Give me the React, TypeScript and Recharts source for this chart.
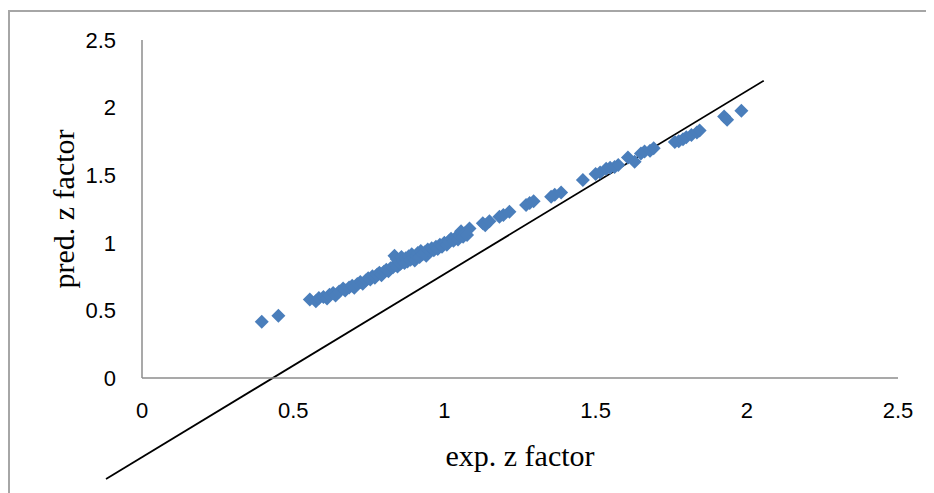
import React from 'react';
import {
  ScatterChart,
  Scatter,
  XAxis,
  YAxis,
  ReferenceLine,
  Label,
} from 'recharts';

const expZ = [
  0.396, 0.451,
  0.555, 0.575, 0.585, 0.6, 0.612, 0.62, 0.632, 0.64, 0.652, 0.665, 0.672, 0.685,
  0.695, 0.702, 0.712, 0.722, 0.73, 0.74, 0.748, 0.755, 0.762, 0.77, 0.778, 0.785,
  0.792, 0.8, 0.808, 0.815, 0.822, 0.83, 0.835, 0.838, 0.842, 0.845, 0.85, 0.855,
  0.858, 0.862, 0.868, 0.872, 0.878, 0.882, 0.888, 0.892, 0.898, 0.902, 0.908,
  0.912, 0.918, 0.922, 0.928, 0.935, 0.94, 0.945, 0.952, 0.958, 0.965, 0.972,
  0.978, 0.985, 0.992, 1.0, 1.008, 1.015, 1.022, 1.03, 1.038, 1.045, 1.05, 1.055,
  1.062, 1.068, 1.075, 1.083,
  1.127, 1.135, 1.149, 1.182, 1.195, 1.215, 1.27, 1.282, 1.295, 1.353, 1.365,
  1.386, 1.458, 1.5, 1.515, 1.535, 1.548, 1.563, 1.575, 1.607, 1.629, 1.65, 1.662,
  1.68, 1.692, 1.762, 1.775, 1.789, 1.8, 1.817, 1.835, 1.844, 1.925, 1.935, 1.982,
];
const predZ = [
  0.416, 0.461,
  0.58, 0.568, 0.592, 0.6, 0.588, 0.615, 0.628, 0.61, 0.64, 0.662, 0.648, 0.67,
  0.682, 0.668, 0.695, 0.71, 0.698, 0.722, 0.738, 0.728, 0.752, 0.742, 0.765, 0.778,
  0.76, 0.785, 0.8, 0.79, 0.812, 0.82, 0.905, 0.838, 0.88, 0.825, 0.86, 0.845,
  0.895, 0.87, 0.85, 0.885, 0.862, 0.9, 0.875, 0.915, 0.89, 0.87, 0.905,
  0.925, 0.895, 0.94, 0.915, 0.93, 0.905, 0.95, 0.935, 0.96, 0.945, 0.97,
  0.955, 0.985, 0.97, 1.0, 0.985, 1.012, 1.03, 1.015, 1.04, 1.025, 1.06, 1.085,
  1.045, 1.07, 1.058, 1.105,
  1.144, 1.13, 1.16, 1.193, 1.205, 1.23, 1.28, 1.295, 1.308, 1.341, 1.355,
  1.372, 1.464, 1.508, 1.52, 1.548, 1.556, 1.56, 1.575, 1.63, 1.6, 1.66, 1.675,
  1.68, 1.7, 1.745, 1.752, 1.765, 1.78, 1.797, 1.815, 1.83, 1.935, 1.91, 1.977,
];

const axisTicks = [0, 0.5, 1, 1.5, 2, 2.5];

// end points of the fitted line (it runs past the plot area)
const fitLine = [
  { x: -0.119, y: -0.747 },
  { x: 2.056, y: 2.199 },
];

const points = expZ.map((x, i) => ({ x, y: predZ[i] }));

const Diamond = (props: any) => {
  const { cx, cy } = props;
  const r = 7;
  return (
    <polygon
      points={`${cx},${cy - r} ${cx + r},${cy} ${cx},${cy + r} ${cx - r},${cy}`}
      fill="#4a7ebb"
    />
  );
};

const tickStyle = { fontFamily: 'Liberation Sans, Arial, sans-serif', fontSize: 22, fill: '#000' };
const titleStyle = { fontFamily: 'Liberation Serif, Times New Roman, serif', fontSize: 30, fill: '#000' };

export default function App() {
  return (
    <div style={{ position: 'relative', width: 926, height: 485, overflow: 'hidden' }}>
      <div
        style={{
          position: 'absolute',
          left: 0,
          top: 2,
          width: 960,
          height: 520,
          borderLeft: '2px solid #a6a6a6',
          borderTop: '2px solid #a6a6a6',
        }}
      />
      <div style={{ position: 'absolute', left: 0, top: 0 }}>
        <ScatterChart
          width={926}
          height={485}
          margin={{ top: 32, right: 36, bottom: 75, left: 64 }}
          style={{ overflow: 'visible' }}
        >
          <XAxis
            type="number"
            dataKey="x"
            domain={[0, 2.5]}
            ticks={axisTicks}
            height={40}
            tickLine={false}
            tickSize={0}
            tickMargin={24}
            tick={tickStyle}
            axisLine={{ stroke: '#8c8c8c', strokeWidth: 1.5 }}
          >
            <Label value="exp. z factor" position="center" dy={57} style={titleStyle} />
          </XAxis>
          <YAxis
            type="number"
            dataKey="y"
            domain={[0, 2.5]}
            ticks={axisTicks}
            width={70}
            tickLine={false}
            tickSize={0}
            tickMargin={26}
            tick={tickStyle}
            axisLine={{ stroke: '#8c8c8c', strokeWidth: 1.5 }}
          >
            <Label value="pred. z factor" position="center" angle={-90} dx={-44} style={titleStyle} />
          </YAxis>
          <Scatter data={points} shape={Diamond} isAnimationActive={false} />
          <ReferenceLine segment={fitLine} ifOverflow="visible" stroke="#000" strokeWidth={1.8} />
        </ScatterChart>
      </div>
    </div>
  );
}
